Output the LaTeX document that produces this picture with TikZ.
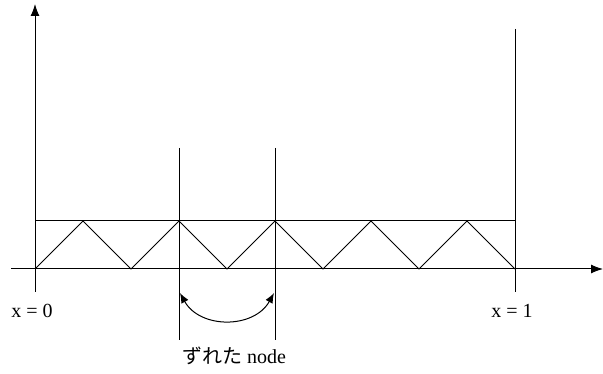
\documentclass[tikz,border=0pt]{standalone}
\usepackage{fontspec}
\setmainfont{Liberation Serif}
\newfontfamily\jpfont{Noto Sans CJK JP}
\usetikzlibrary{arrows.meta}
\tikzset{
  ln/.style={line width=1pt, black},
  axisarrow/.style={ln, -{Latex[length=12pt,width=9pt]}},
  lbl/.style={font=\fontsize{20}{24}\selectfont, inner sep=0pt},
}
\begin{document}
\begin{tikzpicture}[x=1pt,y=-1pt]
\useasboundingbox (0,0) rectangle (603,374);
% axes
\coordinate (hstart) at (11,269);
\coordinate (hend) at (603,269);
\coordinate (vstart) at (35,292);
\coordinate (vend) at (35,4);
\draw[axisarrow] (hstart) -- (hend);
\draw[axisarrow] (vstart) -- (vend);
% right boundary line
\coordinate (rtop) at (515,29);
\coordinate (rbot) at (515,292);
\draw[ln] (rtop) -- (rbot);
% rectangle
\coordinate (rectA) at (35,221);
\coordinate (rectB) at (515,269);
\draw[ln] (rectA) rectangle (rectB);
% zigzag
\draw[ln] (35,269) -- (83,221) -- (131,269) -- (179,221) -- (227,269)
  -- (275,221) -- (323,269) -- (371,221) -- (419,269) -- (467,221) -- (515,269);
% shifted node lines
\coordinate (aTop) at (179,148);
\coordinate (aBot) at (179,340);
\coordinate (bTop) at (275,148);
\coordinate (bBot) at (275,340);
\draw[ln] (aTop) -- (aBot);
\draw[ln] (bTop) -- (bBot);
% curved double arrow
\coordinate (arL) at (180,293);
\coordinate (arR) at (274,293);
\draw[ln, {Latex[length=10pt,width=8pt]}-{Latex[length=10pt,width=8pt]}]
  (arL) .. controls (200,329) and (254,329) .. (arR);
% labels
\node[lbl] (x0) at (32,311) {x = 0};
\node[lbl] (x1) at (512,311) {x = 1};
\node[lbl, anchor=base] (shift) at (234,363) {{\jpfont ずれた} node};
\end{tikzpicture}
\end{document}
